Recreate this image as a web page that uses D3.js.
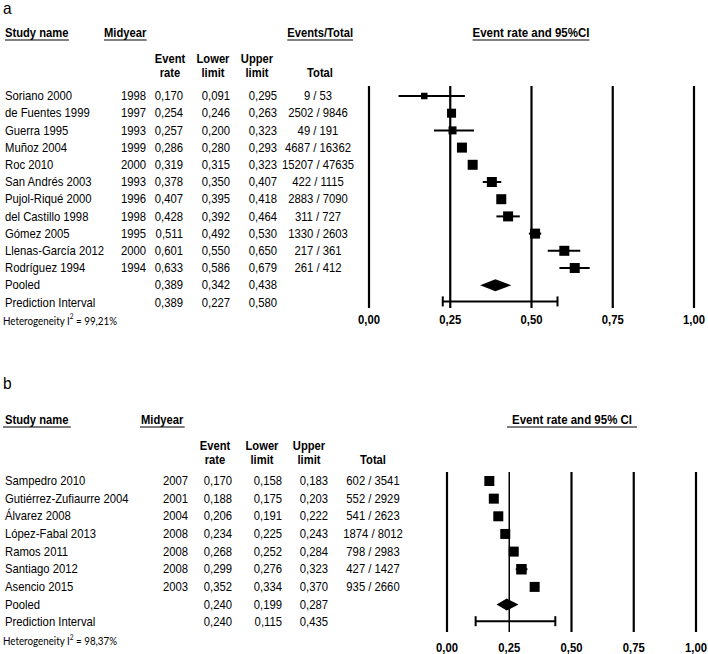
<!DOCTYPE html>
<html>
<head>
<meta charset="utf-8">
<script src="https://cdn.jsdelivr.net/npm/d3@7/dist/d3.min.js"></script>
<style>
  body { margin: 0; background: #fff; }
  svg text { font-family: "Liberation Sans", Arial, sans-serif; fill: #000; }
</style>
</head>
<body>
<div id="chart"></div>
<script>
// ---- datos panel a ----
const studiesA = ['Soriano 2000', 'de Fuentes 1999', 'Guerra 1995', 'Muñoz 2004', 'Roc 2010', 'San Andrés 2003',
                  'Pujol-Riqué 2000', 'del Castillo 1998', 'Gómez 2005', 'Llenas-García 2012', 'Rodríguez 1994'];
const midyearA = [1998, 1997, 1993, 1999, 2000, 1993, 1996, 1998, 1995, 2000, 1994];
const rateA    = [0.170, 0.254, 0.257, 0.286, 0.319, 0.378, 0.407, 0.428, 0.511, 0.601, 0.633];
const lowerA   = [0.091, 0.246, 0.200, 0.280, 0.315, 0.350, 0.395, 0.392, 0.492, 0.550, 0.586];
const upperA   = [0.295, 0.263, 0.323, 0.293, 0.323, 0.407, 0.418, 0.464, 0.530, 0.650, 0.679];
const eventsA  = [9, 2502, 49, 4687, 15207, 422, 2883, 311, 1330, 217, 261];
const totalA   = [53, 9846, 191, 16362, 47635, 1115, 7090, 727, 2603, 361, 412];
const weightA  = [0.65, 0.9, 0.8, 1, 1, 1, 1, 1, 1, 1, 1];   // peso relativo (tamaño del cuadrado)
const pooledA  = [0.389, 0.342, 0.438];
const predA    = [0.389, 0.227, 0.580];
const hetA     = '99,21%';

// ---- datos panel b ----
const studiesB = ['Sampedro 2010', 'Gutiérrez-Zufiaurre 2004', 'Álvarez 2008', 'López-Fabal 2013',
                  'Ramos 2011', 'Santiago 2012', 'Asencio 2015'];
const midyearB = [2007, 2001, 2004, 2008, 2008, 2008, 2003];
const rateB    = [0.170, 0.188, 0.206, 0.234, 0.268, 0.299, 0.352];
const lowerB   = [0.158, 0.175, 0.191, 0.225, 0.252, 0.276, 0.334];
const upperB   = [0.183, 0.203, 0.222, 0.243, 0.284, 0.323, 0.370];
const eventsB  = [602, 552, 541, 1874, 798, 427, 935];
const totalB   = [3541, 2929, 2623, 8012, 2983, 1427, 2660];
const weightB  = [1, 1, 1, 1, 1, 1.05, 1];
const pooledB  = [0.240, 0.199, 0.287];
const predB    = [0.240, 0.115, 0.435];
const hetB     = '98,37%';

const ticks = [0, 0.25, 0.5, 0.75, 1];

const es = d3.formatLocale({ decimal: ',', thousands: '.', grouping: [3], currency: ['', ''] });
const f3 = es.format('.3f');
const f2 = es.format('.2f');

const SY = 1.1;   // el texto original es algo más alto que Arial

const svg = d3.select('#chart').append('svg')
  .attr('width', 708).attr('height', 654)
  .attr('viewBox', '0 0 708 654');

// texto con estiramiento vertical
function txt(sel, x, y, s, o = {}) {
  return sel.append('text')
    .attr('transform', `translate(${x},${y}) scale(1,${o.sy || SY})`)
    .attr('text-anchor', o.anchor || 'start')
    .attr('dominant-baseline', o.base || 'central')
    .style('font-size', (o.size || 11.3) + 'px')
    .style('font-weight', o.bold ? 'bold' : 'normal')
    .text(s);
}

function panel(p) {
  const g = svg.append('g');
  const rows = p.studies.map((s, i) => ({
    name: s, mid: p.mid[i], rate: p.rate[i], low: p.low[i], up: p.up[i],
    ev: p.ev[i], tot: p.tot[i], w: p.w[i]
  }));
  const y = d3.scaleLinear().domain([0, 1]).range([p.y0, p.y0 + p.dy]);   // fila -> y
  const x = d3.scaleLinear().domain([0, 1]).range([p.x0, p.x1]);
  const size = d3.scaleLinear().domain([0, 1]).range([0, 10]);

  // letra del panel
  txt(g, 3, p.labelY, p.label, { size: 15.5, sy: 1.05 });

  // cabeceras subrayadas
  p.heads.forEach(h => {
    const t = txt(g, h.x, p.headY, h.text, { anchor: h.anchor, size: h.size || 11.2, bold: true, base: 'auto' });
    const bb = t.node().getBBox();
    g.append('line')
      .attr('x1', h.x + bb.x - (h.pad || 0)).attr('x2', h.x + bb.x + bb.width + (h.pad || 0))
      .attr('y1', p.headY + 3).attr('y2', p.headY + 3)
      .attr('stroke', '#000').attr('stroke-width', 1.2);
  });

  // sub cabeceras
  p.subs.forEach(s => {
    s.lines.forEach((l, k) => {
      txt(g, s.x, k === 0 ? p.sub1 : p.sub2, l, { anchor: 'middle', size: 11.2, bold: true });
    });
  });

  // tabla
  const all = rows.map((r, i) => ({ ...r, i }))
    .concat([{ name: 'Pooled', rate: p.pooled[0], low: p.pooled[1], up: p.pooled[2], i: rows.length },
             { name: 'Prediction Interval', rate: p.pred[0], low: p.pred[1], up: p.pred[2], i: rows.length + 1 }]);

  all.forEach(d => {
    const yy = y(d.i);
    txt(g, 5, yy, d.name);
    if (d.mid) txt(g, p.cMid, yy, d.mid, { anchor: 'end' });
    txt(g, p.cRate, yy, f3(d.rate), { anchor: 'end' });
    txt(g, p.cLow, yy, f3(d.low), { anchor: 'end' });
    txt(g, p.cUp, yy, f3(d.up), { anchor: 'end' });
    if (d.tot) txt(g, p.cTot, yy, `${d.ev} / ${d.tot}`, { anchor: 'middle' });
  });

  // heterogeneidad
  const het = g.append('text')
    .attr('transform', `translate(3,${y(rows.length + 2) + 1}) scale(1,${SY})`)
    .attr('dominant-baseline', 'central')
    .style('font-family', 'Lato, "Open Sans", sans-serif').style('font-size', '9.8px');
  het.append('tspan').text('Heterogeneity I');
  het.append('tspan').attr('dy', -4).style('font-size', '6.5px').text('2');
  het.append('tspan').attr('dy', 4).text(` = ${p.het}`);

  // lineas verticales de referencia
  g.selectAll('.vl').data(ticks).enter().append('line')
    .attr('x1', d => x(d)).attr('x2', d => x(d))
    .attr('y1', p.lineTop).attr('y2', p.lineBot)
    .attr('stroke', '#000')
    .attr('stroke-width', d => (p.thin === d ? 1.5 : 2.2));

  ticks.forEach(d => txt(g, x(d), p.tickY, f2(d), { anchor: 'middle', size: 11.3, bold: true }));

  // IC de cada estudio
  g.selectAll('.ci').data(rows).enter().append('line')
    .attr('x1', d => x(d.low)).attr('x2', d => x(d.up))
    .attr('y1', (d, i) => y(i)).attr('y2', (d, i) => y(i))
    .attr('stroke', '#000').attr('stroke-width', 2);

  g.selectAll('.sq').data(rows).enter().append('rect')
    .attr('x', d => x(d.rate) - size(d.w) / 2)
    .attr('y', (d, i) => y(i) - size(d.w) / 2)
    .attr('width', d => size(d.w)).attr('height', d => size(d.w))
    .attr('fill', '#000');

  // diamante combinado
  const yp = y(rows.length);
  g.append('path')
    .attr('d', `M${x(p.pooled[1])},${yp} L${x(p.pooled[0])},${yp - 6} L${x(p.pooled[2])},${yp} L${x(p.pooled[0])},${yp + 6} Z`)
    .attr('fill', '#000');

  // intervalo de prediccion
  const yq = y(rows.length + 1) - 1;
  g.append('line').attr('x1', x(p.pred[1])).attr('x2', x(p.pred[2]))
    .attr('y1', yq).attr('y2', yq).attr('stroke', '#000').attr('stroke-width', 2);
  [p.pred[1], p.pred[2]].forEach(v => {
    g.append('line').attr('x1', x(v)).attr('x2', x(v))
      .attr('y1', yq - 5).attr('y2', yq + 5).attr('stroke', '#000').attr('stroke-width', 2);
  });
}

panel({
  label: 'a', labelY: 8,
  studies: studiesA, mid: midyearA, rate: rateA, low: lowerA, up: upperA, ev: eventsA, tot: totalA, w: weightA,
  pooled: pooledA, pred: predA, het: hetA,
  headY: 37,
  heads: [
    { text: 'Study name', x: 5 },
    { text: 'Midyear', x: 104 },
    { text: 'Events/Total', x: 353, anchor: 'end' },
    { text: 'Event rate and 95%CI', x: 531, anchor: 'middle', size: 11.5 }
  ],
  subs: [
    { lines: ['Event', 'rate'], x: 170 },
    { lines: ['Lower', 'limit'], x: 213 },
    { lines: ['Upper', 'limit'], x: 257 },
    { lines: ['', 'Total'], x: 320 }
  ],
  sub1: 58, sub2: 72,
  y0: 96, dy: 17.2,
  cMid: 146, cRate: 183, cLow: 230, cUp: 277, cTot: 318,
  x0: 369, x1: 694, lineTop: 86, lineBot: 308, tickY: 320
});

panel({
  label: 'b', labelY: 383,
  studies: studiesB, mid: midyearB, rate: rateB, low: lowerB, up: upperB, ev: eventsB, tot: totalB, w: weightB,
  pooled: pooledB, pred: predB, het: hetB,
  headY: 424,
  heads: [
    { text: 'Study name', x: 5, pad: 2 },
    { text: 'Midyear', x: 141, pad: 1 },
    { text: 'Event rate and 95% CI', x: 572, anchor: 'middle', pad: 5, size: 11.5 }
  ],
  subs: [
    { lines: ['Event', 'rate'], x: 215 },
    { lines: ['Lower', 'limit'], x: 262 },
    { lines: ['Upper', 'limit'], x: 309 },
    { lines: ['', 'Total'], x: 373 }
  ],
  sub1: 445, sub2: 459.5,
  y0: 481, dy: 17.65,
  cMid: 188, cRate: 232, cLow: 282, cUp: 328, cTot: 373,
  x0: 447, x1: 696, lineTop: 472, lineBot: 632, tickY: 648, thin: 0.25
});
</script>
</body>
</html>
